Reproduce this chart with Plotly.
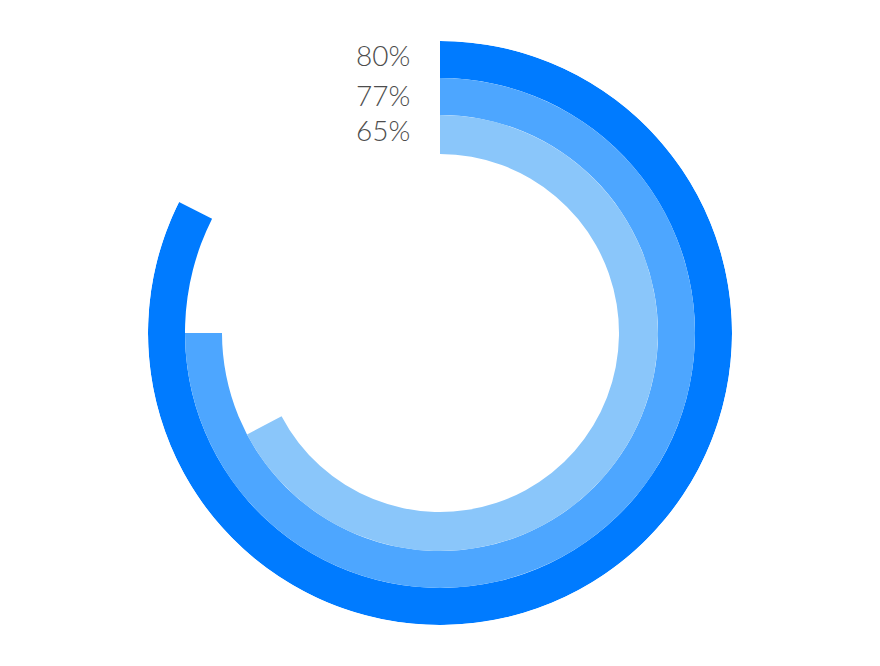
import plotly.graph_objects as go

# label texts shown next to the rings
labels = ["80%", "77%", "65%"]
# arc lengths (percent of full circle) as drawn in the picture
arc_values = [82.4, 75.0, 67.3]
ring_inner = [255, 218, 179]
ring_outer = [292, 255, 218]
colors = ["#007BFF", "#4DA6FF", "#8AC6FA"]
label_y_px = [56, 96, 131]

W, H = 880, 666
OFF = 8  # page body margin
cx, cy, R = 440 - OFF, 333 - OFF, 292

fig = go.Figure()
for v, b0, b1, c in zip(arc_values, ring_inner, ring_outer, colors):
    fig.add_trace(go.Barpolar(
        r=[b1 - b0], base=[b0], theta=[v * 3.6 / 2], width=[v * 3.6],
        marker=dict(color=c, line=dict(width=0)),
        hoverinfo="skip", showlegend=False,
    ))

for lab, ypx in zip(labels, label_y_px):
    fig.add_annotation(
        x=(411 - OFF) / W, y=1 - (ypx - OFF - 1) / H, xref="paper", yref="paper",
        xanchor="right", yanchor="middle", showarrow=False,
        height=28, valign="middle", borderpad=0,
        text=lab, font=dict(family="Lato", size=28, color="#4d4d4d", weight=300),
    )

fig.update_layout(
    width=W, height=H,
    margin=dict(l=0, r=0, t=0, b=0),
    paper_bgcolor="white", plot_bgcolor="white",
    polar=dict(
        domain=dict(x=[(cx - R) / W, (cx + R) / W], y=[(H - cy - R) / H, (H - cy + R) / H]),
        bgcolor="rgba(0,0,0,0)",
        bargap=0,
        radialaxis=dict(range=[0, R], visible=False, showgrid=False),
        angularaxis=dict(rotation=90, direction="clockwise", visible=False, showgrid=False),
    ),
)

fig.write_html("out.html")
